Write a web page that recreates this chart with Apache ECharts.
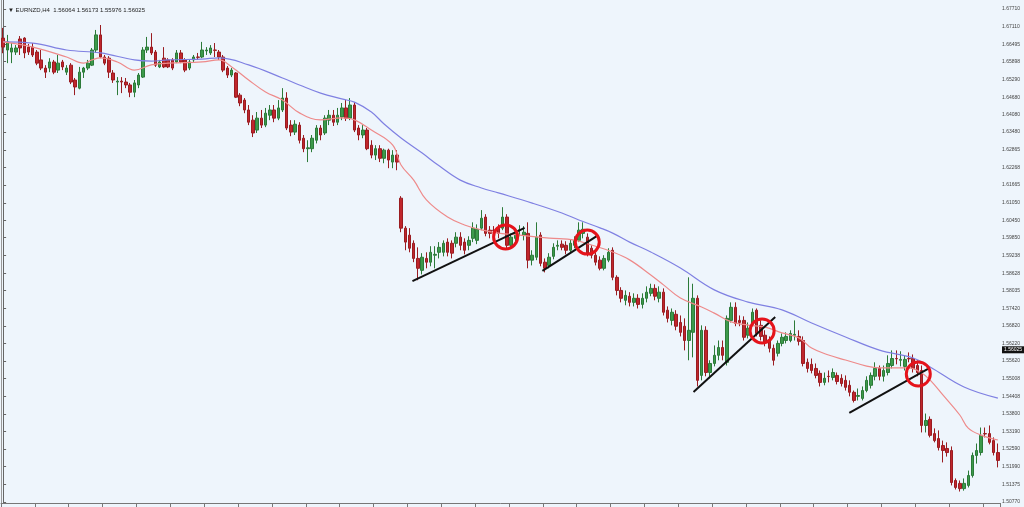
<!DOCTYPE html>
<html>
<head>
<meta charset="utf-8">
<script src="https://cdn.jsdelivr.net/npm/echarts@6.0.0/dist/echarts.min.js"></script>
<style>
html,body{margin:0;padding:0;background:#eef5fc;}
#chart{width:1024px;height:507px;}
</style>
</head>
<body>
<div id="chart"></div>
<script>
// OHLC candles: [open, close, low, high]
const candles = [
[1.6671,1.6640,1.6619,1.6706],[1.6630,1.6658,1.6585,1.6682],[1.6623,1.6637,1.6585,1.6654],[1.6623,1.6637,1.6613,1.6647],
[1.6668,1.6637,1.6613,1.6678],[1.6671,1.6620,1.6602,1.6674],[1.6640,1.6623,1.6613,1.6651],[1.6640,1.6613,1.6606,1.6654],
[1.6623,1.6585,1.6578,1.6630],[1.6596,1.6568,1.6561,1.6630],[1.6568,1.6554,1.6534,1.6578],[1.6568,1.6589,1.6554,1.6602],
[1.6589,1.6554,1.6547,1.6596],[1.6561,1.6585,1.6551,1.6613],[1.6589,1.6572,1.6561,1.6596],[1.6554,1.6568,1.6544,1.6578],
[1.6578,1.6520,1.6513,1.6585],[1.6527,1.6503,1.6475,1.6534],[1.6499,1.6554,1.6495,1.6572],[1.6554,1.6568,1.6534,1.6572],
[1.6568,1.6585,1.6561,1.6596],[1.6578,1.6630,1.6575,1.6637],[1.6630,1.6682,1.6620,1.6699],[1.6682,1.6606,1.6602,1.6716],
[1.6606,1.6585,1.6578,1.6613],[1.6602,1.6554,1.6534,1.6609],[1.6551,1.6527,1.6517,1.6561],[1.6520,1.6523,1.6475,1.6537],
[1.6523,1.6520,1.6482,1.6537],[1.6520,1.6510,1.6499,1.6534],[1.6510,1.6485,1.6468,1.6517],[1.6485,1.6517,1.6468,1.6527],
[1.6510,1.6544,1.6499,1.6551],[1.6537,1.6630,1.6534,1.6640],[1.6630,1.6640,1.6620,1.6675],[1.6640,1.6620,1.6613,1.6688],
[1.6623,1.6578,1.6572,1.6630],[1.6572,1.6589,1.6568,1.6596],[1.6602,1.6572,1.6568,1.6640],[1.6596,1.6572,1.6568,1.6602],
[1.6596,1.6568,1.6561,1.6602],[1.6589,1.6620,1.6585,1.6630],[1.6620,1.6589,1.6585,1.6630],[1.6596,1.6561,1.6554,1.6602],
[1.6568,1.6589,1.6561,1.6596],[1.6596,1.6606,1.6589,1.6613],[1.6606,1.6605,1.6596,1.6620],[1.6606,1.6630,1.6602,1.6658],
[1.6627,1.6630,1.6613,1.6640],[1.6620,1.6637,1.6613,1.6647],[1.6630,1.6629,1.6606,1.6654],[1.6623,1.6606,1.6596,1.6630],
[1.6606,1.6561,1.6554,1.6613],[1.6568,1.6544,1.6534,1.6575],[1.6544,1.6561,1.6537,1.6568],[1.6551,1.6468,1.6465,1.6554],
[1.6475,1.6448,1.6437,1.6482],[1.6458,1.6424,1.6413,1.6465],[1.6424,1.6382,1.6372,1.6441],[1.6389,1.6345,1.6331,1.6406],
[1.6355,1.6396,1.6345,1.6417],[1.6396,1.6372,1.6362,1.6424],[1.6372,1.6413,1.6365,1.6431],[1.6406,1.6424,1.6389,1.6441],
[1.6424,1.6396,1.6382,1.6441],[1.6396,1.6431,1.6389,1.6458],[1.6424,1.6465,1.6417,1.6499],[1.6465,1.6362,1.6355,1.6485],
[1.6372,1.6348,1.6334,1.6389],[1.6348,1.6375,1.6338,1.6389],[1.6372,1.6320,1.6309,1.6382],[1.6327,1.6291,1.6279,1.6338],
[1.6291,1.6294,1.6245,1.6320],[1.6291,1.6327,1.6279,1.6338],[1.6320,1.6362,1.6309,1.6372],[1.6362,1.6338,1.6320,1.6372],
[1.6345,1.6396,1.6338,1.6406],[1.6389,1.6406,1.6372,1.6424],[1.6406,1.6382,1.6369,1.6424],[1.6382,1.6406,1.6372,1.6431],
[1.6400,1.6431,1.6389,1.6448],[1.6431,1.6396,1.6386,1.6458],[1.6396,1.6441,1.6389,1.6465],[1.6441,1.6355,1.6348,1.6451],
[1.6362,1.6338,1.6320,1.6372],[1.6338,1.6355,1.6327,1.6372],[1.6355,1.6291,1.6286,1.6362],[1.6303,1.6269,1.6258,1.6320],
[1.6269,1.6291,1.6252,1.6303],[1.6291,1.6258,1.6245,1.6303],[1.6258,1.6286,1.6241,1.6291],[1.6286,1.6252,1.6224,1.6291],
[1.6245,1.6269,1.6224,1.6286],[1.6269,1.6245,1.6217,1.6286],[1.6121,1.6018,1.6004,1.6128],[1.6018,1.5970,1.5942,1.6025],
[1.5994,1.5949,1.5935,1.6018],[1.5966,1.5914,1.5901,1.5976],[1.5914,1.5880,1.5839,1.5952],[1.5873,1.5918,1.5859,1.5932],
[1.5914,1.5901,1.5880,1.5935],[1.5901,1.5935,1.5887,1.5956],[1.5925,1.5928,1.5880,1.5956],[1.5935,1.5952,1.5914,1.5970],
[1.5935,1.5966,1.5921,1.5976],[1.5970,1.5935,1.5921,1.5983],[1.5966,1.5932,1.5914,1.5976],[1.5966,1.5987,1.5952,1.6004],
[1.5987,1.5959,1.5942,1.6004],[1.5970,1.5942,1.5928,1.5983],[1.5959,1.5976,1.5942,1.5990],[1.5983,1.6018,1.5970,1.6038],
[1.5976,1.6014,1.5963,1.6031],[1.6018,1.6052,1.6011,1.6080],[1.6056,1.6000,1.5990,1.6066],[1.6011,1.6000,1.5983,1.6025],
[1.6011,1.6010,1.5990,1.6025],[1.6018,1.6000,1.5983,1.6031],[1.6018,1.6056,1.6011,1.6090],[1.6056,1.5959,1.5949,1.6066],
[1.5959,1.5987,1.5949,1.6000],[1.5983,1.6004,1.5970,1.6018],[1.6011,1.6012,1.5990,1.6028],[1.5994,1.6004,1.5976,1.6025],
[1.6000,1.5908,1.5880,1.6038],[1.5908,1.5925,1.5890,1.5942],[1.5918,1.5987,1.5908,1.6038],[1.5994,1.5897,1.5887,1.6004],
[1.5901,1.5880,1.5866,1.5914],[1.5890,1.5918,1.5880,1.5932],[1.5921,1.5952,1.5911,1.5966],[1.5956,1.5959,1.5942,1.5976],
[1.5963,1.5952,1.5942,1.5976],[1.5959,1.5942,1.5928,1.5973],[1.5942,1.5966,1.5932,1.5980],[1.5959,1.5976,1.5949,1.5990],
[1.5976,1.6011,1.5970,1.6038],[1.6000,1.6014,1.5983,1.6038],[1.5987,1.5932,1.5921,1.6000],[1.5949,1.5925,1.5914,1.5959],
[1.5925,1.5901,1.5890,1.5935],[1.5908,1.5880,1.5873,1.5921],[1.5880,1.5914,1.5873,1.5925],[1.5908,1.5935,1.5901,1.5949],
[1.5942,1.5849,1.5839,1.5952],[1.5849,1.5804,1.5787,1.5856],[1.5804,1.5777,1.5763,1.5815],[1.5770,1.5787,1.5753,1.5804],
[1.5784,1.5763,1.5749,1.5798],[1.5763,1.5777,1.5749,1.5794],[1.5777,1.5756,1.5742,1.5791],[1.5756,1.5777,1.5742,1.5794],
[1.5777,1.5798,1.5763,1.5818],[1.5794,1.5811,1.5784,1.5827],[1.5811,1.5784,1.5770,1.5825],[1.5777,1.5798,1.5763,1.5818],
[1.5798,1.5729,1.5718,1.5811],[1.5736,1.5708,1.5694,1.5749],[1.5701,1.5729,1.5684,1.5742],[1.5722,1.5681,1.5667,1.5736],
[1.5694,1.5660,1.5646,1.5718],[1.5681,1.5632,1.5598,1.5708],[1.5632,1.5667,1.5564,1.5849],[1.5660,1.5777,1.5574,1.5827],
[1.5777,1.5495,1.5474,1.5787],[1.5512,1.5667,1.5495,1.5684],[1.5667,1.5522,1.5509,1.5681],[1.5522,1.5553,1.5502,1.5564],
[1.5553,1.5581,1.5543,1.5615],[1.5581,1.5608,1.5564,1.5632],[1.5608,1.5581,1.5564,1.5632],[1.5557,1.5708,1.5546,1.5718],
[1.5701,1.5746,1.5694,1.5763],[1.5746,1.5691,1.5681,1.5763],[1.5701,1.5694,1.5681,1.5718],[1.5701,1.5643,1.5632,1.5715],
[1.5650,1.5674,1.5639,1.5694],[1.5691,1.5729,1.5681,1.5742],[1.5736,1.5656,1.5646,1.5742],[1.5684,1.5646,1.5632,1.5701],
[1.5650,1.5626,1.5612,1.5667],[1.5632,1.5605,1.5591,1.5646],[1.5605,1.5564,1.5546,1.5618],[1.5588,1.5622,1.5577,1.5632],
[1.5622,1.5643,1.5612,1.5656],[1.5632,1.5646,1.5622,1.5660],[1.5632,1.5656,1.5626,1.5667],[1.5650,1.5653,1.5632,1.5701],
[1.5646,1.5629,1.5615,1.5667],[1.5632,1.5553,1.5543,1.5646],[1.5557,1.5536,1.5522,1.5570],[1.5550,1.5529,1.5519,1.5570],
[1.5536,1.5512,1.5502,1.5553],[1.5519,1.5488,1.5474,1.5529],[1.5488,1.5502,1.5478,1.5522],[1.5509,1.5508,1.5488,1.5529],
[1.5505,1.5522,1.5495,1.5536],[1.5512,1.5491,1.5481,1.5522],[1.5502,1.5484,1.5474,1.5516],[1.5495,1.5471,1.5460,1.5512],
[1.5478,1.5454,1.5440,1.5495],[1.5454,1.5426,1.5419,1.5460],[1.5440,1.5443,1.5426,1.5467],[1.5433,1.5460,1.5426,1.5474],
[1.5460,1.5495,1.5454,1.5509],[1.5478,1.5512,1.5467,1.5522],[1.5509,1.5536,1.5495,1.5557],[1.5536,1.5509,1.5495,1.5546],
[1.5509,1.5529,1.5491,1.5546],[1.5522,1.5553,1.5512,1.5581],[1.5546,1.5570,1.5536,1.5598],[1.5570,1.5569,1.5550,1.5598],
[1.5564,1.5567,1.5543,1.5595],[1.5543,1.5567,1.5529,1.5581],[1.5570,1.5569,1.5557,1.5591],[1.5570,1.5536,1.5522,1.5584],
[1.5546,1.5522,1.5509,1.5564],[1.5529,1.5340,1.5316,1.5546],[1.5340,1.5357,1.5316,1.5381],[1.5361,1.5306,1.5299,1.5371],
[1.5312,1.5288,1.5282,1.5330],[1.5295,1.5264,1.5254,1.5323],[1.5271,1.5254,1.5213,1.5288],[1.5261,1.5247,1.5233,1.5282],
[1.5254,1.5144,1.5134,1.5268],[1.5151,1.5127,1.5120,1.5158],[1.5141,1.5123,1.5113,1.5151],[1.5123,1.5141,1.5116,1.5158],
[1.5134,1.5168,1.5127,1.5185],[1.5168,1.5237,1.5161,1.5247],[1.5237,1.5254,1.5209,1.5278],[1.5247,1.5306,1.5237,1.5333],
[1.5312,1.5311,1.5299,1.5333],[1.5312,1.5282,1.5275,1.5340],[1.5288,1.5247,1.5237,1.5299],[1.5247,1.5220,1.5196,1.5278]
];

// Moving averages: [bar index, price]
const maRed = [[0,1.6658],[7,1.6640],[15,1.6606],[19,1.6585],[21,1.6596],[23,1.6603],[27,1.6589],[31,1.6561],[35,1.6579],[39,1.6585],[47,1.6589],[51,1.6596],[54,1.6572],[58,1.6527],[62,1.6486],[66,1.6458],[70,1.6414],[75,1.6390],[80,1.6397],[83,1.6390],[87,1.6355],[92,1.6304],[94,1.6235],[97,1.6183],[100,1.6115],[105,1.6056],[109,1.6029],[113,1.6012],[117,1.6001],[122,1.5994],[129,1.5984],[135,1.5977],[139,1.5960],[144,1.5936],[148,1.5909],[153,1.5857],[156,1.5823],[160,1.5778],[165,1.5747],[168,1.5726],[172,1.5696],[176,1.5685],[180,1.5678],[184,1.5658],[188,1.5641],[191,1.5606],[195,1.5582],[199,1.5565],[204,1.5544],[207,1.5538],[211,1.5538],[214,1.5538],[217,1.5520],[219,1.5496],[222,1.5445],[226,1.5376],[228,1.5331],[231,1.5307],[235,1.5290]];
const maBlue = [[0,1.6658],[7,1.6654],[15,1.6630],[23,1.6620],[31,1.6596],[35,1.6592],[39,1.6596],[47,1.6599],[51,1.6603],[58,1.6579],[66,1.6534],[70,1.6510],[75,1.6482],[80,1.6462],[83,1.6451],[87,1.6417],[90,1.6376],[94,1.6328],[99,1.6276],[103,1.6232],[108,1.6183],[113,1.6156],[117,1.6139],[125,1.6104],[132,1.6070],[136,1.6046],[141,1.6019],[144,1.6001],[148,1.5970],[153,1.5936],[160,1.5881],[168,1.5806],[176,1.5764],[184,1.5737],[191,1.5692],[199,1.5644],[207,1.5599],[215,1.5572],[219,1.5541],[227,1.5472],[235,1.5434]];

// Annotations: trendlines and circles [bar index, price]
const trendLines = [
  [[96.7,1.5836],[123.2,1.6019]],
  [[127.4,1.5871],[140.6,1.5994]],
  [[163.1,1.5455],[182.4,1.5713]],
  [[199.9,1.5383],[218.8,1.5537]]
];
const circles = [[118.7,1.5988],[138.0,1.5970],[179.3,1.5665],[216.2,1.5517]];

// Price axis tick labels
const yTicks = [1.67710,1.67110,1.66495,1.65898,1.65290,1.64680,1.64080,1.63480,1.62865,1.62268,1.61665,1.61050,1.60450,1.59850,1.59238,1.58628,1.58035,1.57420,1.56820,1.56220,1.55620,1.55008,1.54408,1.53800,1.53190,1.52590,1.51990,1.51375,1.50770];
const lastPrice = 1.56025;
const headerText = '\u25BC EURNZD,H4  1.56064 1.56173 1.55976 1.56025';

const categories = candles.map((_, i) => String(i));
const Y_MIN = 1.50736, Y_MAX = 1.68019;

const chart = echarts.init(document.getElementById('chart'), null, {renderer: 'canvas'});
const font = 'Liberation Sans, Arial, sans-serif';

const series = [
  {
    type: 'candlestick',
    xAxisIndex: 0, yAxisIndex: 0,
    data: candles,
    barWidth: 3,
    itemStyle: {
      color: '#3c9a4b', color0: '#c0262c',
      borderColor: '#2c7a39', borderColor0: '#9a1c21',
      borderWidth: 1
    }
  },
  {
    type: 'line', xAxisIndex: 1, yAxisIndex: 0, data: maBlue, smooth: 0.4,
    symbol: 'none', lineStyle: {color: '#7f80e2', width: 1.2}, z: 3
  },
  {
    type: 'line', xAxisIndex: 1, yAxisIndex: 0, data: maRed, smooth: 0.4,
    symbol: 'none', lineStyle: {color: '#ee8a8a', width: 1.2}, z: 3
  }
];
trendLines.forEach(seg => {
  series.push({
    type: 'line', xAxisIndex: 1, yAxisIndex: 0, data: seg,
    symbol: 'none', lineStyle: {color: '#111', width: 2}, z: 4
  });
});
series.push({
  type: 'scatter', xAxisIndex: 1, yAxisIndex: 0, data: circles,
  symbol: 'circle', symbolSize: 24,
  itemStyle: {color: 'rgba(0,0,0,0)', borderColor: '#e5131b', borderWidth: 3, opacity: 1},
  z: 5
});
// Current price tag on the price axis
series.push({
  type: 'line', xAxisIndex: 1, yAxisIndex: 0, data: [], symbol: 'none',
  markLine: {
    silent: true, symbol: 'none',
    lineStyle: {color: 'rgba(0,0,0,0)', width: 0},
    label: {
      show: true, position: 'end', distance: 2, formatter: lastPrice.toFixed(5),
      backgroundColor: '#111', color: '#fff', fontSize: 5, fontFamily: font,
      padding: [1, 2, 1, 2], opacity: 1
    },
    data: [{yAxis: lastPrice}]
  },
  z: 6
});

chart.setOption({
  animation: false,
  backgroundColor: '#eef5fc',
  title: {
    text: headerText, left: 3, top: 2,
    textStyle: {fontSize: 6, fontWeight: 'normal', color: '#222', fontFamily: font}
  },
  grid: {left: 1, right: 24, top: 0, bottom: 4, containLabel: false},
  xAxis: [
    {
      type: 'category', data: categories, boundaryGap: true,
      axisLine: {show: true, lineStyle: {color: '#777', width: 1}},
      axisTick: {show: true, interval: 7, length: 4, lineStyle: {color: '#777'}},
      axisLabel: {show: false}, splitLine: {show: false}
    },
    {
      type: 'value', min: -0.5, max: candles.length - 0.5, show: false,
      splitLine: {show: false}
    }
  ],
  yAxis: [
    {
      type: 'value', position: 'right', min: Y_MIN, max: Y_MAX, scale: true,
      splitLine: {show: false},
      axisLine: {show: true, lineStyle: {color: '#666', width: 1}},
      axisTick: {show: true, length: 3, customValues: yTicks, lineStyle: {color: '#666'}},
      axisLabel: {
        show: true, customValues: yTicks, formatter: v => Number(v).toFixed(5),
        fontSize: 5, color: '#444', margin: 2, fontFamily: font
      }
    },
    {
      type: 'value', position: 'left', min: Y_MIN, max: Y_MAX,
      splitLine: {show: false},
      axisLine: {show: true, lineStyle: {color: '#999', width: 1}},
      axisTick: {show: false}, axisLabel: {show: false}
    }
  ],
  series: series
});
</script>
</body>
</html>
